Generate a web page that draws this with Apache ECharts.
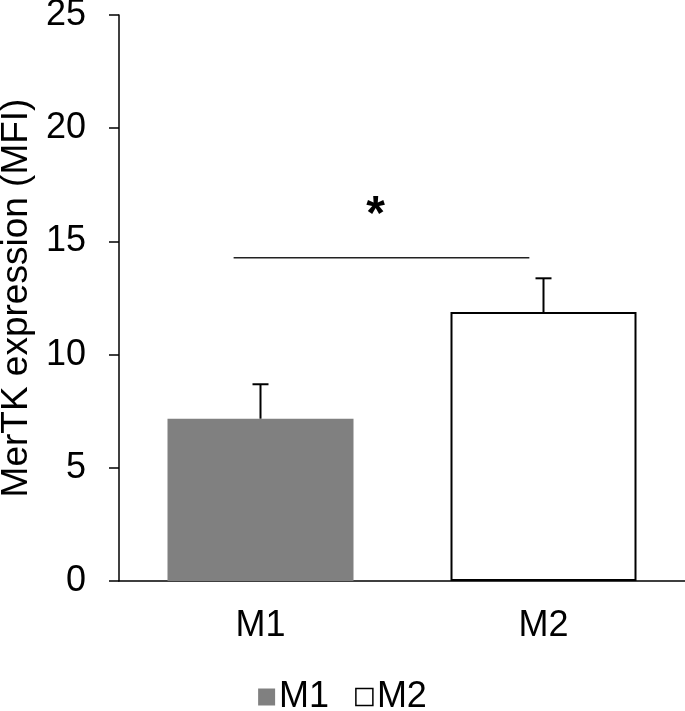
<!DOCTYPE html>
<html>
<head>
<meta charset="utf-8">
<script src="https://cdn.jsdelivr.net/npm/echarts@6/dist/echarts.min.js"></script>
<style>
  html, body { margin: 0; padding: 0; background: #fff; }
  #chart { width: 685px; height: 711px; }
</style>
</head>
<body>
<div id="chart"></div>
<script>
const categories = ['M1', 'M2']
const meanValues = [7.17, 11.88]
const errorUpper = [8.69, 13.37]
const sigLevel = 14.28
const sigLabel = '*'
const yTicks = { min: 0, max: 25, interval: 5 }

const FONT = '"Liberation Sans", Arial, sans-serif'

const chart = echarts.init(document.getElementById('chart'))

chart.setOption({
  animation: false,
  textStyle: { fontFamily: FONT, color: '#000' },
  grid: { left: 119, right: 0, top: 15, bottom: 130, containLabel: false, outerBoundsMode: 'none' },
  legend: {
    data: [
      { name: 'M1', icon: 'rect' },
      { name: 'M2', icon: 'rect', itemStyle: { color: '#fff', borderColor: '#000', borderWidth: 1.5 } }
    ],
    left: 'center',
    top: 674,
    itemWidth: 17,
    itemHeight: 17,
    itemGap: 26,
    textStyle: { fontSize: 36, color: '#000', fontFamily: FONT, padding: [0, 0, 8, -1] }
  },
  xAxis: {
    type: 'category',
    data: categories,
    axisLine: { lineStyle: { color: '#000', width: 1.5 } },
    axisTick: { show: false },
    axisLabel: { fontSize: 36, color: '#000', margin: 27, fontFamily: FONT }
  },
  yAxis: {
    type: 'value',
    min: yTicks.min,
    max: yTicks.max,
    interval: yTicks.interval,
    name: 'MerTK expression (MFI)',
    nameLocation: 'middle',
    nameGap: 83,
    nameTextStyle: { fontSize: 37, color: '#000', fontFamily: FONT },
    axisLine: { show: true, lineStyle: { color: '#000', width: 1.5 } },
    axisTick: { show: true, length: 10, lineStyle: { color: '#000', width: 1.5 } },
    axisLabel: { fontSize: 36, color: '#000', margin: 33, fontFamily: FONT },
    splitLine: { show: false }
  },
  series: [
    {
      name: 'M1',
      type: 'bar',
      barWidth: 186,
      barGap: '-100%',
      data: [meanValues[0], '-'],
      itemStyle: { color: '#808080' }
    },
    {
      name: 'M2',
      type: 'bar',
      barWidth: 186,
      barGap: '-100%',
      data: ['-', meanValues[1]],
      itemStyle: { color: '#fff', borderColor: '#000', borderWidth: 2 }
    },
    {
      // error bars
      type: 'custom',
      silent: true,
      z: 5,
      data: categories.map((c, i) => [i, meanValues[i], errorUpper[i]]),
      renderItem: (params, api) => {
        const base = api.coord([api.value(0), api.value(1)])
        const top = api.coord([api.value(0), api.value(2)])
        const style = { stroke: '#000', lineWidth: 2 }
        return {
          type: 'group',
          children: [
            { type: 'line', shape: { x1: base[0], y1: base[1], x2: top[0], y2: top[1] }, style },
            { type: 'line', shape: { x1: top[0] - 8, y1: top[1], x2: top[0] + 8, y2: top[1] }, style }
          ]
        }
      }
    },
    {
      // significance bracket
      type: 'custom',
      silent: true,
      z: 5,
      data: [[0, 1, sigLevel]],
      renderItem: (params, api) => {
        const band = api.size([1, 0])[0]
        const a = api.coord([api.value(0), api.value(2)])
        const b = api.coord([api.value(1), api.value(2)])
        const x1 = a[0] - 0.095 * band
        const x2 = b[0] - 0.05 * band
        return {
          type: 'group',
          children: [
            { type: 'line', shape: { x1, y1: a[1], x2, y2: a[1] }, style: { stroke: '#222', lineWidth: 1.5 } },
            {
              type: 'text',
              x: (x1 + x2) / 2 - 6,
              y: a[1] - 42,
              style: { text: sigLabel, font: 'bold 48px ' + FONT, fill: '#000', align: 'center', verticalAlign: 'middle' }
            }
          ]
        }
      }
    }
  ]
})
</script>
</body>
</html>
